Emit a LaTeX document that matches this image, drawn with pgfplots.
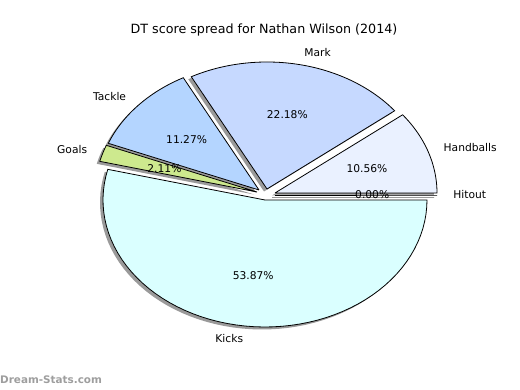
\documentclass[border=0pt]{standalone}
\usepackage{fontspec}
\setmainfont{DejaVu Sans}
\usepackage{pgfplots}
\pgfplotsset{compat=1.18}

\definecolor{cHit}{HTML}{F4F8FF}
\definecolor{cHand}{HTML}{EAF1FF}
\definecolor{cMark}{HTML}{C6D9FF}
\definecolor{cTack}{HTML}{B4D5FF}
\definecolor{cGoal}{HTML}{CDE98E}
\definecolor{cKick}{HTML}{DAFFFF}
\definecolor{cShadow}{HTML}{9A9A9A}

% data (percent of DT score)
\def\vHit{0.00}
\def\vHand{10.56}
\def\vMark{22.18}
\def\vTack{11.27}
\def\vGoal{2.11}
\def\vKick{53.87}

\pgfmathsetmacro\aA{0}
\pgfmathsetmacro\aB{\aA+3.6*\vHit}
\pgfmathsetmacro\aC{\aB+3.6*\vHand}
\pgfmathsetmacro\aD{\aC+3.6*\vMark}
\pgfmathsetmacro\aE{\aD+3.6*\vTack}
\pgfmathsetmacro\aF{\aE+3.6*\vGoal}
\pgfmathsetmacro\aG{\aF+3.6*\vKick}

\pgfmathsetmacro\mHit{(\aA+\aB)/2}
\pgfmathsetmacro\mHand{(\aB+\aC)/2}
\pgfmathsetmacro\mMark{(\aC+\aD)/2}
\pgfmathsetmacro\mTack{(\aD+\aE)/2}
\pgfmathsetmacro\mGoal{(\aE+\aF)/2}
\pgfmathsetmacro\mKick{(\aF+\aG)/2}

% wedge centres (exploded), pixel units
\def\cxHit{275}  \def\cyHit{-195}
\def\cxHand{275} \def\cyHand{-193}
\def\cxMark{267} \def\cyMark{-189}
\def\cxTack{259} \def\cyTack{-190}
\def\cxGoal{257} \def\cyGoal{-192}
\def\cxKick{265} \def\cyKick{-200}

\def\rx{162}
\def\ry{127}

\newcommand{\labelpos}[1]{%
  \pgfmathsetmacro\tmpa{\csname cx#1\endcsname+1.1*\rx*cos(\csname m#1\endcsname)}%
  \expandafter\let\csname lx#1\endcsname\tmpa
  \pgfmathsetmacro\tmpa{\csname cy#1\endcsname+1.1*\ry*sin(\csname m#1\endcsname)}%
  \expandafter\let\csname ly#1\endcsname\tmpa
  \pgfmathsetmacro\tmpa{\csname cx#1\endcsname+0.6*\rx*cos(\csname m#1\endcsname)}%
  \expandafter\let\csname px#1\endcsname\tmpa
  \pgfmathsetmacro\tmpa{\csname cy#1\endcsname+0.6*\ry*sin(\csname m#1\endcsname)}%
  \expandafter\let\csname py#1\endcsname\tmpa
}
\labelpos{Hit}\labelpos{Hand}\labelpos{Mark}\labelpos{Tack}\labelpos{Goal}\labelpos{Kick}

\newcommand{\pieslice}[5]{%
  \addplot[#5, samples at={-1,0,...,61}, variable=\t]
   ({ifthenelse((\t<0)+(\t>60),#1,#1+\rx*cos(#3+(#4-#3)*\t/60))},
    {ifthenelse((\t<0)+(\t>60),#2,#2+\ry*sin(#3+(#4-#3)*\t/60))});
}

\begin{document}
\begin{tikzpicture}
\begin{axis}[
  width=520pt, height=390pt, scale only axis,
  xmin=0, xmax=520, ymin=-390, ymax=0,
  hide axis, clip=false,
]
\path (axis cs:0,0) rectangle (axis cs:520,-390);
% shadows
\pieslice{\cxHit-3}{\cyHit-2.5}{\aA}{\aB}{fill=cShadow, draw=cShadow, line width=0.5pt}
\pieslice{\cxHand-3}{\cyHand-2.5}{\aB}{\aC}{fill=cShadow, draw=none}
\pieslice{\cxMark-3}{\cyMark-2.5}{\aC}{\aD}{fill=cShadow, draw=none}
\pieslice{\cxTack-3}{\cyTack-2.5}{\aD}{\aE}{fill=cShadow, draw=none}
\pieslice{\cxGoal-3}{\cyGoal-2.5}{\aE}{\aF}{fill=cShadow, draw=none}
\pieslice{\cxKick-3}{\cyKick-2.5}{\aF}{\aG}{fill=cShadow, draw=none}
% wedges
\pieslice{\cxHit}{\cyHit}{\aA}{\aB}{fill=cHit, draw=black, line width=0.8pt}
\pieslice{\cxHand}{\cyHand}{\aB}{\aC}{fill=cHand, draw=black, line width=0.8pt}
\pieslice{\cxMark}{\cyMark}{\aC}{\aD}{fill=cMark, draw=black, line width=0.8pt}
\pieslice{\cxTack}{\cyTack}{\aD}{\aE}{fill=cTack, draw=black, line width=0.8pt}
\pieslice{\cxGoal}{\cyGoal}{\aE}{\aF}{fill=cGoal, draw=black, line width=0.8pt}
\pieslice{\cxKick}{\cyKick}{\aF}{\aG}{fill=cKick, draw=black, line width=0.8pt}
% labels
\begin{scope}[every node/.style={inner sep=0pt, font=\fontsize{10.7}{12}\selectfont}]
\node[anchor=west] at (axis cs:\lxHit,\lyHit) {Hitout};
\node[anchor=west] at (axis cs:\lxHand,\lyHand) {Handballs};
\node[anchor=west] at (axis cs:\lxMark,\lyMark) {Mark};
\node[anchor=east] at (axis cs:\lxTack,\lyTack) {Tackle};
\node[anchor=east] at (axis cs:\lxGoal,\lyGoal) {Goals};
\node[anchor=east] at (axis cs:\lxKick,\lyKick) {Kicks};
\node at (axis cs:\pxHit,\pyHit) {0.00\%};
\node at (axis cs:\pxHand,\pyHand) {10.56\%};
\node at (axis cs:\pxMark,\pyMark) {22.18\%};
\node at (axis cs:\pxTack,\pyTack) {11.27\%};
\node at (axis cs:\pxGoal,\pyGoal) {2.11\%};
\node at (axis cs:\pxKick,\pyKick) {53.87\%};
\end{scope}
\node[inner sep=0pt, font=\fontsize{12.7}{14}\selectfont] at (axis cs:264,-30) {DT score spread for Nathan Wilson (2014)};
\node[inner sep=0pt, anchor=west, text=black!38, font=\bfseries\fontsize{10.4}{12}\selectfont] at (axis cs:0,-380) {Dream-Stats.com};
\end{axis}
\end{tikzpicture}
\end{document}
